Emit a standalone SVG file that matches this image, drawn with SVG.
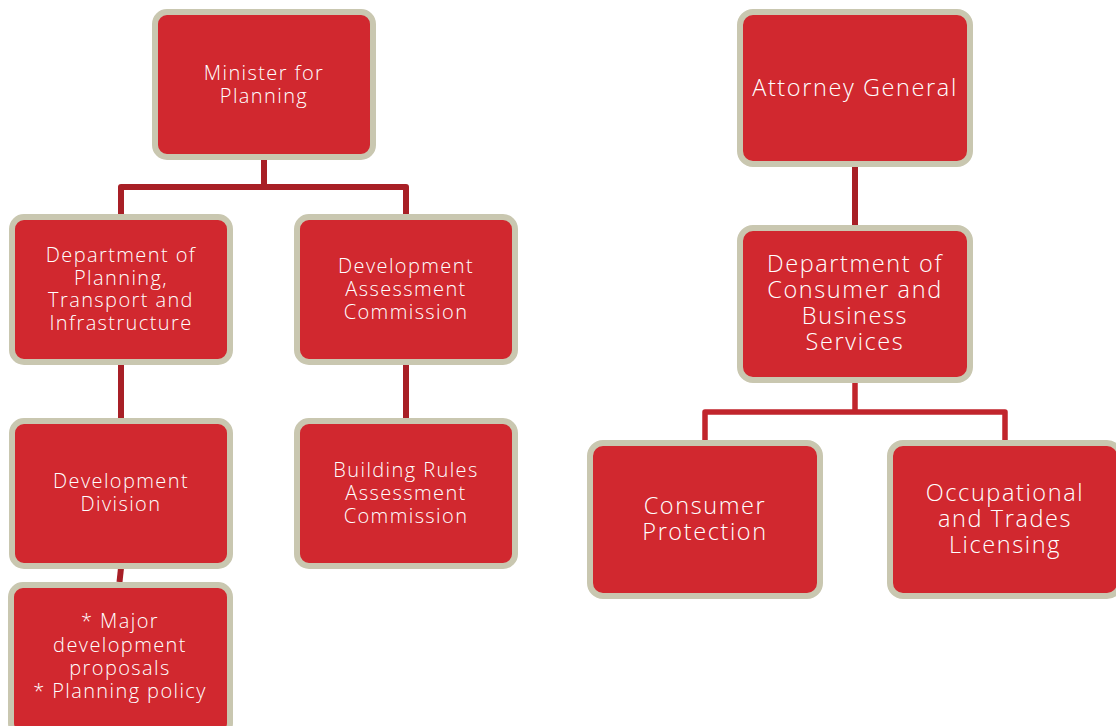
<svg xmlns="http://www.w3.org/2000/svg" width="1116" height="726" viewBox="0 0 1116 726">
<style>
.box{fill:#d1282f;stroke:#c9c7b0;stroke-width:6}
.t{font-family:"Open Sans","Liberation Sans",sans-serif;font-weight:300;fill:#ffffff;text-anchor:middle}
.s{font-size:20px;letter-spacing:1.4px}
.l{font-size:23.5px;letter-spacing:1.6px}
.c1{fill:none;stroke:#a81f26;stroke-width:6;stroke-linejoin:round}
.c2{fill:none;stroke:#c1252c;stroke-width:5.5;stroke-linejoin:round}
</style>
<rect width="1116" height="726" fill="#ffffff"/>
<g id="connectors">
<path class="c1" d="M264,160 V187 M121,214 V187 H406 V214"/>
<path class="c1" d="M121,364 V418"/>
<path class="c1" d="M406,364 V418"/>
<path class="c1" d="M121,568 L119.5,582" stroke-width="5"/>
<path class="c1" d="M855,167 V225"/>
<path class="c2" d="M855,383 V412 M705,440 V412 H1005 V440"/>
</g>
<g id="minister">
<rect class="box" x="155" y="12" width="218" height="145" rx="12"/>
<text class="t s" x="264" y="80">Minister for</text>
<text class="t s" x="264" y="103">Planning</text>
</g>
<g id="dpti">
<rect class="box" x="12" y="217" width="218" height="145" rx="12"/>
<text class="t s" x="121" y="262">Department of</text>
<text class="t s" x="121" y="285">Planning,</text>
<text class="t s" x="121" y="307">Transport and</text>
<text class="t s" x="121" y="330">Infrastructure</text>
</g>
<g id="dac">
<rect class="box" x="297" y="217" width="218" height="145" rx="12"/>
<text class="t s" x="406" y="273">Development</text>
<text class="t s" x="406" y="296">Assessment</text>
<text class="t s" x="406" y="319">Commission</text>
</g>
<g id="devdiv">
<rect class="box" x="12" y="421" width="218" height="145" rx="12"/>
<text class="t s" x="121" y="488">Development</text>
<text class="t s" x="121" y="511">Division</text>
</g>
<g id="brac">
<rect class="box" x="297" y="421" width="218" height="145" rx="12"/>
<text class="t s" x="406" y="477">Building Rules</text>
<text class="t s" x="406" y="500">Assessment</text>
<text class="t s" x="406" y="523">Commission</text>
</g>
<g id="major">
<rect class="box" x="11" y="585" width="219" height="150" rx="12"/>
<text class="t s" x="120" y="628">* Major</text>
<text class="t s" x="120" y="652">development</text>
<text class="t s" x="120" y="675">proposals</text>
<text class="t s" x="120" y="698">* Planning policy</text>
</g>
<g id="ag">
<rect class="box" x="740" y="12" width="230" height="152" rx="13"/>
<text class="t l" x="855" y="96">Attorney General</text>
</g>
<g id="dcbs">
<rect class="box" x="740" y="228" width="230" height="152" rx="13"/>
<text class="t l" x="855" y="272">Department of</text>
<text class="t l" x="855" y="298">Consumer and</text>
<text class="t l" x="855" y="324">Business</text>
<text class="t l" x="855" y="350">Services</text>
</g>
<g id="cp">
<rect class="box" x="590" y="443" width="230" height="153" rx="13"/>
<text class="t l" x="705" y="514">Consumer</text>
<text class="t l" x="705" y="540">Protection</text>
</g>
<g id="otl">
<rect class="box" x="890" y="443" width="230" height="153" rx="13"/>
<text class="t l" x="1005" y="501">Occupational</text>
<text class="t l" x="1005" y="527">and Trades</text>
<text class="t l" x="1005" y="553">Licensing</text>
</g>
</svg>
